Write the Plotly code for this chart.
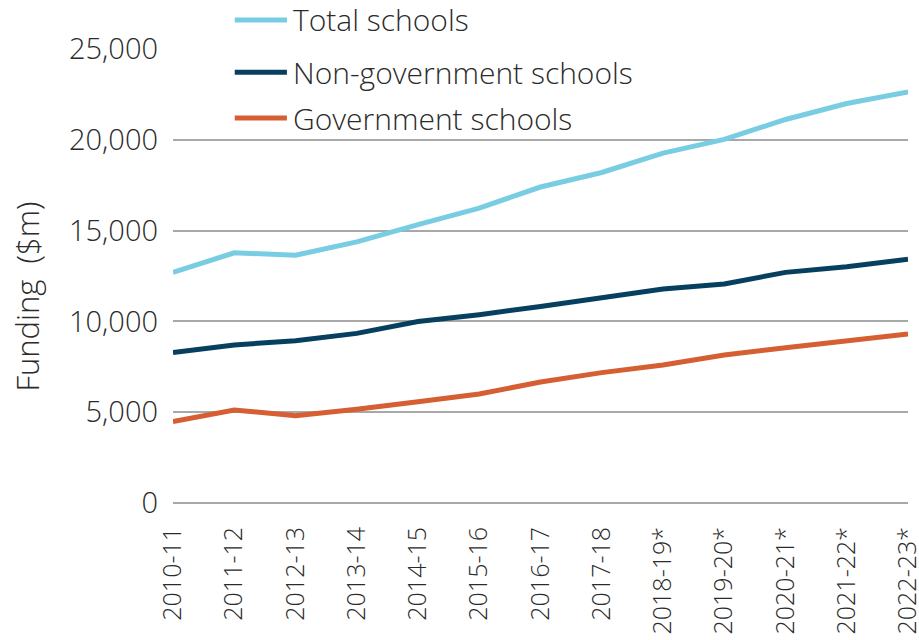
import plotly.graph_objects as go

# Financial years (asterisk marks estimates)
years = ["2010-11", "2011-12", "2012-13", "2013-14", "2014-15", "2015-16", "2016-17",
         "2017-18", "2018-19*", "2019-20*", "2020-21*", "2021-22*", "2022-23*"]

# Funding, $m
total_schools = [12700, 13780, 13640, 14380, 15330, 16240, 17400,
                 18200, 19270, 20020, 21120, 22000, 22640]
non_government = [8280, 8700, 8940, 9340, 9990, 10370, 10820,
                  11270, 11780, 12060, 12700, 13010, 13420]
government = [4480, 5120, 4810, 5160, 5580, 6000, 6660,
              7180, 7600, 8150, 8550, 8940, 9310]

series_names = ["Total schools", "Non-government schools", "Government schools"]
series_values = [total_schools, non_government, government]
series_colors = ["#78CDE2", "#073F5F", "#D55F33"]

FONT = "Open Sans"
WEIGHT = 300
TEXT = "#2b2b2b"

fig = go.Figure()
for name, vals, col in zip(series_names, series_values, series_colors):
    fig.add_trace(go.Scatter(
        x=years, y=vals, name=name, mode="lines",
        line=dict(color=col, width=5), showlegend=False, cliponaxis=False,
    ))

# Hand-placed legend above the plot
legend_y = [1.064, 0.949, 0.848]
for name, col, ly in zip(series_names, series_colors, legend_y):
    fig.add_shape(type="line", xref="paper", yref="paper",
                  x0=0.084, x1=0.155, y0=ly, y1=ly,
                  line=dict(color=col, width=5))
    fig.add_annotation(xref="paper", yref="paper", x=0.161, y=ly,
                       text=name, showarrow=False, xanchor="left", yanchor="middle",
                       font=dict(family=FONT, size=30, color=TEXT, weight=WEIGHT))

# Y-axis title, set slightly below the axis midpoint
fig.add_annotation(xref="paper", yref="paper", x=-0.199, y=0.454,
                   text="Funding  ($m)", textangle=-90, showarrow=False,
                   xanchor="center", yanchor="middle",
                   font=dict(family=FONT, size=31, color=TEXT, weight=WEIGHT))

fig.update_layout(
    width=919, height=640,
    margin=dict(l=173, r=11, t=49, b=137),
    paper_bgcolor="white", plot_bgcolor="white",
    font=dict(family=FONT, color=TEXT, weight=WEIGHT),
)
fig.update_xaxes(
    type="category", showgrid=False, zeroline=False, showline=False,
    tickangle=-90, tickfont=dict(family=FONT, size=25, color=TEXT, weight=WEIGHT),
    ticks="", ticklabelstandoff=18, automargin=False,
)
fig.update_yaxes(
    range=[0, 25000], tickvals=[0, 5000, 10000, 15000, 20000, 25000],
    tickformat=",d", showgrid=True, gridcolor="#A8A8A8", gridwidth=1.5,
    zeroline=True, zerolinecolor="#A8A8A8", zerolinewidth=1.5, showline=False,
    tickfont=dict(family=FONT, size=29, color=TEXT, weight=WEIGHT), ticks="", ticklabelstandoff=14,
    automargin=False,
)

fig.write_html("out.html")
